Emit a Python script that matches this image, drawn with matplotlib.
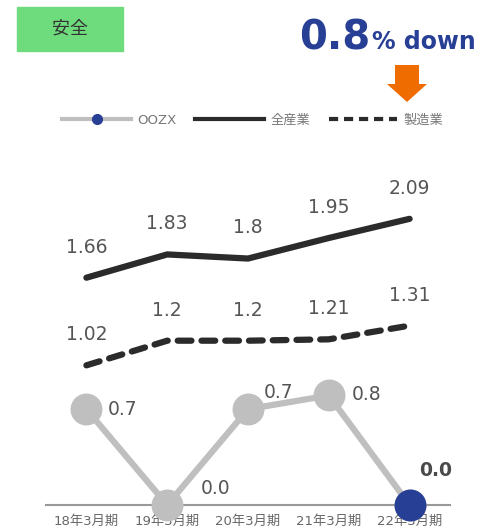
import matplotlib
matplotlib.use("Agg")
import matplotlib.pyplot as plt
from matplotlib.lines import Line2D
from matplotlib.patches import Polygon, Rectangle

plt.rcParams['font.family'] = ['DejaVu Sans', 'Noto Sans CJK JP']

periods = ["18年3月期", "19年3月期", "20年3月期", "21年3月期", "22年3月期"]
oozx = [0.7, 0.0, 0.7, 0.8, 0.0]
all_industry = [1.66, 1.83, 1.8, 1.95, 2.09]
manufacturing = [1.02, 1.2, 1.2, 1.21, 1.31]

GRAY = "#bfbfbf"
DARK = "#2b2b2b"
NAVY = "#283f96"
TXT = "#555555"

fig = plt.figure(figsize=(4.79, 5.31), dpi=100)
ax = fig.add_axes([46 / 479, 26 / 531, 404 / 479, 356 / 531])
x = list(range(len(periods)))

ax.plot(x, all_industry, color=DARK, lw=4.5, solid_capstyle="round", zorder=3)
ax.plot(x, manufacturing, color=DARK, lw=4.5, ls=(0, (2.2, 1.6)),
        dash_capstyle="round", zorder=3)
ax.plot(x, oozx, color=GRAY, lw=4.5, marker="o", ms=23, mec="none",
        clip_on=False, zorder=4)
ax.plot(x[-1:], oozx[-1:], "o", color=NAVY, ms=23, mec="none",
        clip_on=False, zorder=5)

for series in (all_industry, manufacturing):
    for xi, v in zip(x, series):
        ax.annotate(f"{v:g}", (xi, v), xytext=(0, 22), textcoords="offset points",
                    ha="center", va="center", fontsize=13.5, color=TXT)

# value labels next to the OOZX markers
offsets = [(26, 0), (35, 12), (22, 12), (27, 1), (19, 25)]
for i, (xi, v) in enumerate(zip(x, oozx)):
    last = i == len(oozx) - 1
    ax.annotate(f"{v:.1f}", (xi, v), xytext=offsets[i], textcoords="offset points",
                ha="center", va="center", fontsize=13.5,
                color="#4a4a4a" if last else TXT,
                fontweight="bold" if last else "normal")

ax.set_xlim(-0.5, 4.5)
ax.set_ylim(0, 2.6)
ax.set_xticks(x)
ax.set_xticklabels(periods, fontsize=9.5, color="#666666")
ax.tick_params(axis="x", length=0, pad=7)
ax.set_yticks([])
for s in ["top", "left", "right"]:
    ax.spines[s].set_visible(False)
ax.spines["bottom"].set_color("#999999")
ax.spines["bottom"].set_linewidth(1.5)

# legend
handles = [
    Line2D([], [], color=GRAY, lw=3, marker="o", ms=7, mfc=NAVY, mec=NAVY),
    Line2D([], [], color=DARK, lw=3),
    Line2D([], [], color=DARK, lw=3, ls=(0, (2.2, 1.4))),
]
fig.legend(handles, ["OOZX", "全産業", "製造業"], loc="center",
           bbox_to_anchor=(253 / 479, 1 - 120 / 531), ncol=3, frameon=False,
           handlelength=5.2, handletextpad=0.5, columnspacing=1.4,
           fontsize=9.5, labelcolor="#777777")

# title badge
fig.add_artist(Rectangle((17 / 479, 1 - 51 / 531), 106 / 479, 44 / 531,
                         transform=fig.transFigure, color="#6edc7c"))
fig.text(70 / 479, 1 - 29 / 531, "安全", ha="center", va="center",
         fontsize=13, color="#333333")

# headline
fig.text(370 / 479, 1 - 49 / 531, "0.8", ha="right", va="baseline",
         fontsize=29, fontweight="bold", color=NAVY)
fig.text(372 / 479, 1 - 49 / 531, "% down", ha="left", va="baseline",
         fontsize=17, fontweight="bold", color=NAVY)

# orange down arrow
arrow = [(395, 65), (419, 65), (419, 84), (427, 84), (407, 102), (387, 84), (395, 84)]
fig.add_artist(Polygon([(px / 479, 1 - py / 531) for px, py in arrow],
                       closed=True, transform=fig.transFigure,
                       color="#ee6c00", lw=0))

fig.savefig("out.png", dpi=100)
